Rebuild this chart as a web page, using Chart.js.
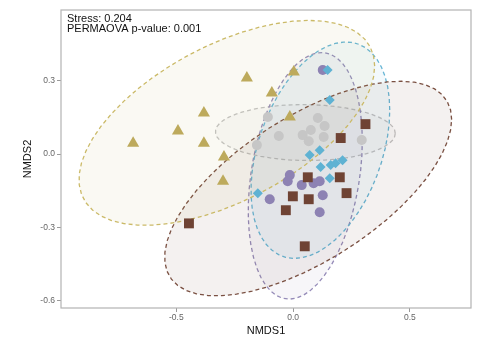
<!DOCTYPE html>
<html><head><meta charset="utf-8">
<script src="https://cdn.jsdelivr.net/npm/chart.js@4/dist/chart.umd.min.js"></script>
<style>html,body{margin:0;padding:0;background:#fff;overflow:hidden}#wrap{width:478px;height:341px;position:relative}</style>
</head><body><div id="wrap"><canvas id="c" width="478" height="341"></canvas></div>
<script>
// ---- data (NMDS coordinates) ----
const triX  = [-0.685,-0.493,-0.382,-0.382,-0.296,-0.300,-0.198,-0.091,0.003,-0.014];
const triY  = [0.045,0.095,0.169,0.045,-0.012,-0.111,0.312,0.251,0.337,0.152];
const sqX   = [0.310,0.204,0.063,0.200,-0.001,0.067,0.229,-0.031,0.050,-0.446];
const sqY   = [0.123,0.066,-0.095,-0.095,-0.173,-0.185,-0.160,-0.230,-0.378,-0.284];
const diaX  = [0.148,0.157,0.071,0.114,0.118,0.161,0.182,0.212,0.157,-0.151];
const diaY  = [0.345,0.222,-0.004,0.016,-0.053,-0.045,-0.037,-0.025,-0.099,-0.160];
const purX  = [0.127,-0.014,-0.023,0.037,0.088,0.114,0.127,-0.100,0.114];
const purY  = [0.345,-0.086,-0.111,-0.127,-0.119,-0.111,-0.169,-0.185,-0.238];
const greyX = [0.106,0.135,-0.061,0.041,0.076,0.067,0.131,0.294,-0.108,-0.155];
const greyY = [0.148,0.115,0.074,0.078,0.099,0.053,0.070,0.058,0.152,0.037];
const xTicks = [-0.5, 0, 0.5];
const yTicks = [-0.6, -0.3, 0, 0.3];
const stressText = 'Stress: 0.204';
const permText = 'PERMAOVA p-value: 0.001';
const xTitle = 'NMDS1';
const yTitle = 'NMDS2';

const FONT = '"Liberation Sans", Arial, Helvetica, sans-serif';

function toPts(xs, ys){ return xs.map((x,i)=>({x:x, y:ys[i]})); }

// 95% confidence ellipse (as ggplot2 stat_ellipse) computed from the group's points
function ellipse(xs, ys){
  const n = xs.length, level = 0.95, segs = 51;
  const mx = xs.reduce((a,b)=>a+b,0)/n, my = ys.reduce((a,b)=>a+b,0)/n;
  let sxx=0, syy=0, sxy=0;
  for (let i=0;i<n;i++){ const dx=xs[i]-mx, dy=ys[i]-my; sxx+=dx*dx; syy+=dy*dy; sxy+=dx*dy; }
  sxx/=(n-1); syy/=(n-1); sxy/=(n-1);
  const dfd = n-1;
  const qf = dfd/2*(Math.pow(1-level, -2/dfd)-1);
  const r = Math.sqrt(2*qf);
  const R11 = Math.sqrt(sxx), R12 = sxy/R11, R22 = Math.sqrt(Math.max(syy - R12*R12, 0));
  const pts = [];
  for (let i=0;i<=segs;i++){
    const t = i*2*Math.PI/segs, c = Math.cos(t), s = Math.sin(t);
    pts.push({x: mx + r*c*R11, y: my + r*(c*R12 + s*R22)});
  }
  return pts;
}

const groups = [
  {xs: triX,  ys: triY,  color: '#BDAA5C', line: '#CBBA68', rgb: '189,170,92',  shape: 'triangle', radius: 7},
  {xs: sqX,   ys: sqY,   color: '#6F4334', line: '#7A5042', rgb: '111,67,52',   shape: 'rect',     radius: 7},
  {xs: diaX,  ys: diaY,  color: '#5FB2D3', line: '#67B6D5', rgb: '95,178,211',  shape: 'rectRot',  radius: 5},
  {xs: purX,  ys: purY,  color: '#8D82B3', line: '#958BB8', rgb: '141,130,179', shape: 'circle',   radius: 5},
  {xs: greyX, ys: greyY, color: '#C6C6C6', line: '#C3C3C3', rgb: '180,180,180', shape: 'circle',   radius: 5}
];

const datasets = [];
groups.forEach(g => {
  datasets.push({
    data: ellipse(g.xs, g.ys), showLine: true, pointRadius: 0, pointHoverRadius: 0,
    borderColor: g.line, borderWidth: 1.3, borderDash: [4,3],
    backgroundColor: 'rgba(' + g.rgb + ',0.075)', fill: 'shape', tension: 0, order: 2
  });
});
groups.forEach(g => {
  datasets.push({
    data: toPts(g.xs, g.ys), showLine: false, pointStyle: g.shape, pointRadius: g.radius,
    pointHoverRadius: g.radius, backgroundColor: g.color, borderColor: g.color, borderWidth: 0, order: 1
  });
});

const decor = {
  id: 'decor',
  afterDraw(chart){
    const ctx = chart.ctx, a = chart.chartArea;
    ctx.save();
    ctx.strokeStyle = '#B3B3B3'; ctx.lineWidth = 1.2;
    ctx.strokeRect(a.left, a.top, a.right - a.left, a.bottom - a.top);
    ctx.fillStyle = '#111';
    ctx.font = '11px ' + FONT;
    ctx.textAlign = 'left'; ctx.textBaseline = 'alphabetic';
    ctx.fillText(stressText, a.left + 6, a.top + 11.5);
    ctx.fillText(permText, a.left + 6, a.top + 21.5);
    ctx.textAlign = 'center'; ctx.textBaseline = 'middle';
    ctx.fillText(xTitle, (a.left + a.right)/2, 331);
    ctx.translate(28, (a.top + a.bottom)/2);
    ctx.rotate(-Math.PI/2);
    ctx.fillText(yTitle, 0, 0);
    ctx.restore();
  }
};

new Chart(document.getElementById('c'), {
  type: 'scatter',
  data: {datasets},
  options: {
    responsive: false, animation: false, devicePixelRatio: 1,
    layout: {padding: {left: 0, right: 6, top: 10, bottom: 0}},
    plugins: {legend: {display: false}, tooltip: {enabled: false}},
    scales: {
      x: {
        type: 'linear', min: -0.994, max: 0.762,
        afterBuildTicks: s => { s.ticks = xTicks.map(v => ({value: v})); },
        afterFit: s => { s.height = 33; },
        ticks: {callback: v => Number(v).toFixed(1), font: {size: 8.5, family: FONT}, color: '#666', padding: 1, maxRotation: 0, autoSkip: false},
        grid: {drawOnChartArea: false, tickLength: 4, color: '#9A9A9A'},
        border: {display: false}
      },
      y: {
        type: 'linear', min: -0.631, max: 0.591,
        afterBuildTicks: s => { s.ticks = yTicks.map(v => ({value: v})); },
        afterFit: s => { s.width = 61; },
        ticks: {callback: v => Number(v).toFixed(1), font: {size: 8.5, family: FONT}, color: '#666', padding: 2, autoSkip: false},
        grid: {drawOnChartArea: false, tickLength: 4, color: '#9A9A9A'},
        border: {display: false}
      }
    }
  },
  plugins: [decor]
});
</script></body></html>
